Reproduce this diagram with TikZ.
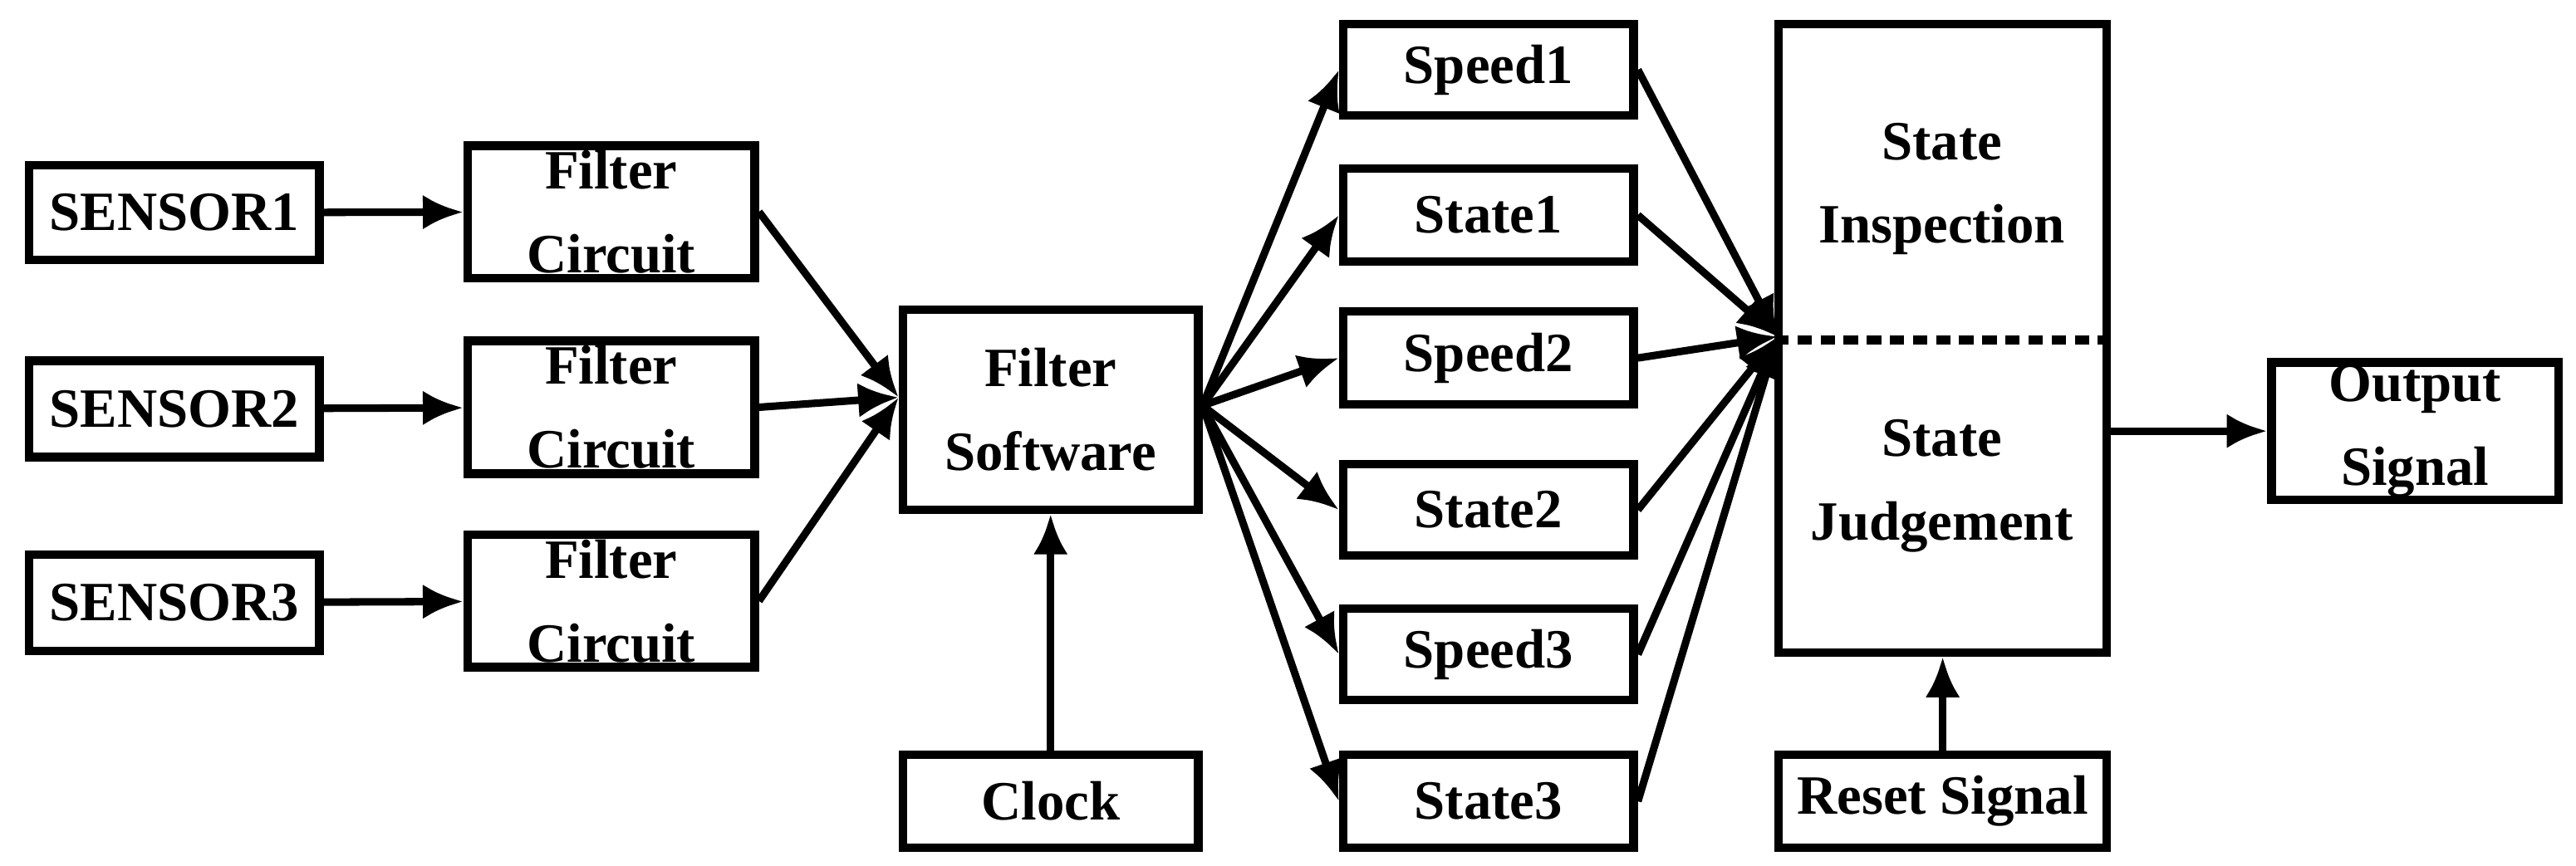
\documentclass[tikz,border=0pt]{standalone}
\usepackage{fontspec}
\setmainfont{Liberation Serif}
\usetikzlibrary{arrows.meta}
\begin{document}
\begin{tikzpicture}[x=0.01cm,y=-0.01cm,
 box/.style={draw,line width=1.5pt,inner sep=0pt,font=\fontsize{9.6}{11.5}\selectfont\bfseries,align=center},
 arr/.style={line width=1.3pt,-{Latex[length=7pt,width=6pt]}}]
\useasboundingbox (0,0) rectangle (1568,527);
\newcommand\bx[6]{\node[box,minimum width={(#4-#2)*0.01cm-1.5pt},minimum height={(#5-#3)*0.01cm-1.5pt}] (#1) at ({(#2+#4)/2},{(#3+#5)/2}) {#6};}
\bx{s1}{15}{98}{197}{161}{SENSOR1}
\bx{s2}{15}{217}{197}{281}{SENSOR2}
\bx{s3}{15}{335}{197}{399}{SENSOR3}
\bx{f1}{282}{86}{462}{172}{Filter\\[3pt]Circuit}
\bx{f2}{282}{205}{462}{291}{Filter\\[3pt]Circuit}
\bx{f3}{282}{323}{462}{409}{Filter\\[3pt]Circuit}
\bx{fs}{547}{186}{732}{313}{Filter\\[3pt]Software}
\bx{clk}{547}{457}{732}{519}{Clock}
\bx{p1}{815}{12}{997}{73}{Speed1}
\bx{t1}{815}{100}{997}{162}{State1}
\bx{p2}{815}{187}{997}{249}{Speed2}
\bx{t2}{815}{280}{997}{341}{State2}
\bx{p3}{815}{368}{997}{429}{Speed3}
\bx{t3}{815}{457}{997}{519}{State3}
\bx{big}{1080}{12}{1285}{400}{}
\bx{rst}{1080}{457}{1285}{519}{Reset Signal}
\bx{out}{1380}{218}{1560}{307}{Output\\[3pt]Signal}
\node[font=\fontsize{9.6}{11.5}\selectfont\bfseries,align=center] (si) at (1182,115) {State\\[3pt]Inspection};
\node[font=\fontsize{9.6}{11.5}\selectfont\bfseries,align=center] (sj) at (1182,296) {State\\[3pt]Judgement};
\coordinate (dl) at (1080,207);
\coordinate (dr) at (1285,207);
\draw[line width=1.5pt,dash pattern=on 2.5pt off 1.5pt] (dl) -- (dr);
\coordinate (fin) at (547,242);
\coordinate (fout) at (732,247);
\coordinate (bin) at (1082,205);
\foreach \i in {1,2,3}{\draw[arr] (s\i) -- (f\i);
 \draw[arr] (f\i.east) -- (fin);}
\foreach \n in {p1,t1,p2,t2,p3,t3}{\draw[arr] (fout) -- (\n.west);
 \draw[arr] (\n.east) -- (bin);}
\draw[arr] (clk) -- (fs);
\draw[arr] (rst) -- (big);
\draw[arr] (big.east|-out) -- (out);
\end{tikzpicture}
\end{document}
